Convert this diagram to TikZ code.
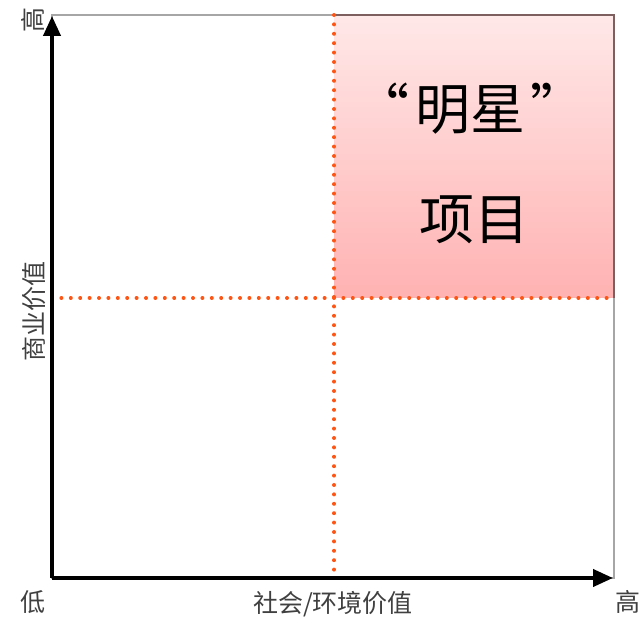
\documentclass[tikz,border=0pt]{standalone}
\usepackage{fontspec}
\newfontfamily\cjk{Noto Sans CJK SC}
\usetikzlibrary{arrows.meta}
\definecolor{dotorange}{RGB}{255,85,20}
\definecolor{boxedge}{RGB}{125,95,95}
\definecolor{pinktop}{RGB}{255,232,232}
\definecolor{pinkbot}{RGB}{255,178,178}

\begin{document}
\begin{tikzpicture}[x=1pt,y=1pt,
    axis/.style={black,line width=4pt,-{Triangle[length=20pt,width=17pt]}},
    grid dots/.style={dotorange,line width=4pt,line cap=round,dash pattern=on 0pt off 9.4pt},
    lbl/.style={font=\cjk\fontsize{25}{25}\selectfont,text=black!75},
    big/.style={font=\cjk\fontsize{55}{55}\selectfont}]
    \useasboundingbox (0,0) rectangle (642,617);
    \coordinate (O) at (52,39);
    \coordinate (xend) at (613,39);
    \coordinate (yend) at (52,601);
    \coordinate (mid) at (334,319);
    \coordinate (tr) at (614,602);
    % star quadrant
    \shade[top color=pinktop,bottom color=pinkbot] (mid) rectangle (tr);
    \draw[gray!70,line width=1.6pt] (O) rectangle (tr);
    \draw[boxedge,line width=1.6pt] (334,602) -- (tr) -- (614,319);
    \node[big] (star) at (470,508) {“\hspace{6pt}明星\hspace{6pt}”};
    \node[big] (proj) at (474,397) {项目};
    % dotted split lines
    \draw[grid dots] (334,602) -- (334,39);
    \draw[grid dots] (52,319) -- (614,319);
    % axes
    \draw[axis] (O) -- (xend);
    \draw[axis] (O) -- (yend);
    \node[lbl,rotate=90] (yhigh) at (33,597) {高};
    \node[lbl,rotate=90] (ylabel) at (34,305) {商业价值};
    \node[lbl] (low) at (33,15) {低};
    \node[lbl] (xlabel) at (333,13) {社会/环境价值};
    \node[lbl] (xhigh) at (628,15) {高};
\end{tikzpicture}
\end{document}
